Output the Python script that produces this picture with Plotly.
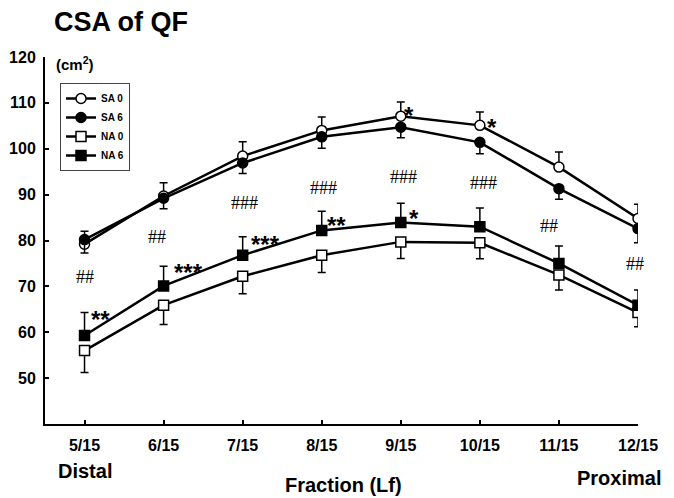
import plotly.graph_objects as go

categories = ["5/15", "6/15", "7/15", "8/15", "9/15", "10/15", "11/15", "12/15"]

sa0 = [79.2, 89.7, 98.4, 104.0, 107.1, 105.1, 96.0, 84.8]
sa0_sd = [2.8, 2.9, 3.1, 2.9, 3.1, 2.9, 3.3, 3.1]
sa6 = [80.2, 89.2, 96.9, 102.6, 104.7, 101.4, 91.3, 82.6]
sa6_sd = [2.9, 2.3, 2.3, 2.5, 2.3, 2.5, 2.3, 3.1]
na0 = [56.0, 65.9, 72.2, 76.8, 79.7, 79.5, 72.5, 64.3]
na0_sd = [4.8, 4.2, 3.8, 3.8, 3.6, 3.5, 3.3, 3.1]
na6 = [59.3, 70.1, 76.8, 82.2, 83.9, 83.0, 75.0, 65.9]
na6_sd = [5.0, 4.3, 4.0, 4.2, 4.2, 4.1, 3.8, 3.3]

y_ticks = [50, 60, 70, 80, 90, 100, 110, 120]

# significance labels
sa_sig = ["", "", "", "", "*", "*", "", ""]
na_sig = ["**", "***", "***", "**", "*", "", "", ""]
group_sig = ["##", "##", "###", "###", "###", "###", "##", "##"]

# label placement (annotation layout, in axis units)
sa_sig_pos = [None, None, None, None, (4.105, 108.45), (5.154, 105.9), None, None]
na_sig_pos = [(0.198, 64.0), (1.311, 74.3), (2.293, 80.5), (3.19, 84.5), (4.168, 86.0), None, None, None]
group_sig_pos = [(0.01, 72.0), (0.92, 80.8), (2.02, 88.2), (3.02, 91.4),
                 (4.04, 93.9), (5.04, 92.5), (5.87, 83.2), (6.96, 74.9)]

SANS = "Liberation Sans, Arial, sans-serif"
SERIF = "Liberation Serif, Times New Roman, serif"

fig = go.Figure()


def add_series(name, y, sd, symbol, fill, upper):
    err = dict(type="data", symmetric=False, color="black", thickness=1.5, width=4)
    if upper:
        err["array"] = sd
        err["arrayminus"] = [0] * len(sd)
    else:
        err["array"] = [0] * len(sd)
        err["arrayminus"] = sd
    fig.add_trace(go.Scatter(
        x=categories, y=y, name=name, mode="lines+markers",
        line=dict(color="black", width=2.5),
        marker=dict(symbol=symbol, size=10, color=fill, line=dict(color="black", width=1.5)),
        error_y=err,
    ))


add_series("SA 0", sa0, sa0_sd, "circle", "white", True)
add_series("SA 6", sa6, sa6_sd, "circle", "black", False)
add_series("NA 0", na0, na0_sd, "square", "white", False)
add_series("NA 6", na6, na6_sd, "square", "black", True)

annotations = []
for lab, pos in zip(sa_sig + na_sig, sa_sig_pos + na_sig_pos):
    if lab and pos:
        annotations.append(dict(x=pos[0], y=pos[1], xref="x", yref="y", text="<b>" + lab + "</b>",
                                showarrow=False, xanchor="center", yanchor="middle", yshift=-6,
                                font=dict(family=SANS, size=24, color="black")))
for lab, pos in zip(group_sig, group_sig_pos):
    annotations.append(dict(x=pos[0], y=pos[1], xref="x", yref="y", text=lab,
                            showarrow=False, xanchor="center", yanchor="middle",
                            font=dict(family=SERIF, size=18, color="black")))

# the page body adds an 8px offset; size the figure so the page matches 674x498
OFF = 8
W, H = 674 - OFF, 498 - OFF
ml, mr, mt, mb = 45 - OFF, 36, 57 - OFF, 74
pw, ph = W - ml - mr, H - mt - mb


def px(xp):
    return (xp - OFF - ml) / pw


def py(yp):
    return (H - mb - (yp - OFF)) / ph


annotations += [
    dict(x=px(52), y=py(22), xref="paper", yref="paper", text="<b>CSA of QF</b>", showarrow=False,
         xanchor="left", yanchor="middle", font=dict(family=SANS, size=27, color="black")),
    dict(x=px(54), y=py(64), xref="paper", yref="paper", text="<b>(cm<sup>2</sup>)</b>", showarrow=False,
         xanchor="left", yanchor="middle", font=dict(family=SANS, size=15, color="black")),
    dict(x=px(85), y=py(471), xref="paper", yref="paper", text="<b>Distal</b>", showarrow=False,
         xanchor="center", yanchor="middle", font=dict(family=SANS, size=20, color="black")),
    dict(x=px(619), y=py(478), xref="paper", yref="paper", text="<b>Proximal</b>", showarrow=False,
         xanchor="center", yanchor="middle", font=dict(family=SANS, size=20, color="black")),
    dict(x=px(343), y=py(485), xref="paper", yref="paper", text="<b>Fraction (Lf)</b>", showarrow=False,
         xanchor="center", yanchor="middle", font=dict(family=SANS, size=20, color="black")),
]

fig.update_layout(
    template="none",
    width=W, height=H,
    margin=dict(l=ml, r=mr, t=mt, b=mb, pad=0, autoexpand=False),
    font=dict(family=SANS, color="black"),
    paper_bgcolor="white", plot_bgcolor="white",
    showlegend=True,
    legend=dict(x=px(60), y=py(83), xanchor="left", yanchor="top",
                bordercolor="#444", borderwidth=1, bgcolor="white",
                font=dict(family=SANS, size=10, color="black", weight="bold"),
                itemwidth=30, tracegroupgap=0, itemsizing="trace"),
    annotations=annotations,
    xaxis=dict(type="category", range=[-0.5, 7], showline=True, linecolor="black", linewidth=2,
               ticks="inside", ticklen=4, tickwidth=2, tickcolor="black", showgrid=False, zeroline=False,
               automargin=False,
               tickfont=dict(family=SANS, size=16, color="black", weight="bold"),
               ticklabelstandoff=6),
    yaxis=dict(range=[40, 120], tickvals=y_ticks, showline=True, linecolor="black", linewidth=2,
               ticks="inside", ticklen=4, tickwidth=2, tickcolor="black", showgrid=False, zeroline=False,
               automargin=False,
               tickfont=dict(family=SANS, size=16, color="black", weight="bold"),
               ticklabelstandoff=4),
)

fig.write_html("out.html")
